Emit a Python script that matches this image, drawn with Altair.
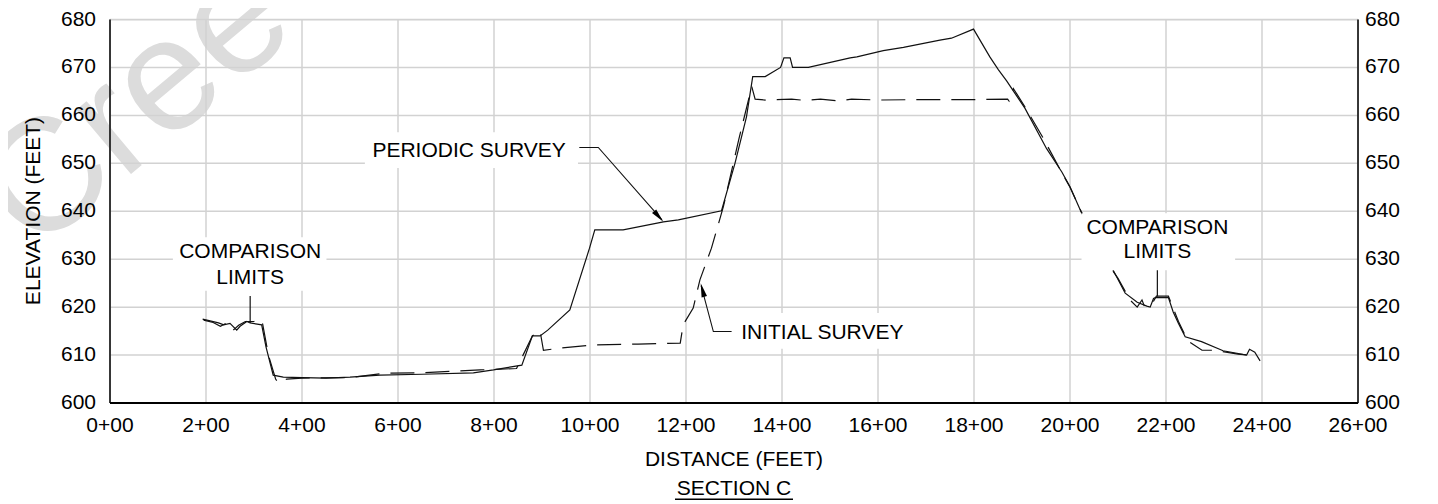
import altair as alt
import pandas as pd

FONT = "Liberation Sans"
FS = 21

# axis ticks and tick labels
x_ticks = list(range(0, 2601, 200))
x_labels = ["0+00", "2+00", "4+00", "6+00", "8+00", "10+00", "12+00", "14+00", "16+00", "18+00", "20+00",
            "22+00", "24+00", "26+00"]
y_ticks = list(range(600, 681, 10))
y_labels = ["600", "610", "620", "630", "640", "650", "660", "670", "680"]

# PERIODIC SURVEY (solid)
periodic_d = [193, 226, 237, 250, 264, 271, 285, 292, 316, 325, 340, 361, 400, 450, 500, 562, 650, 757, 799, 858,
              880, 896, 912, 958, 999, 1010, 1069, 1153, 1184, 1274, 1302, 1309, 1326, 1339, 1365, 1397, 1404, 1417,
              1422, 1455, 1542, 1556, 1611, 1653, 1729, 1753, 1799, 1833, 1851, 1868, 1906, 1951, 1983, 2000, 2023,
              2083, 2090, 2115, 2140, 2160, 2167, 2174, 2178, 2205, 2215, 2226, 2240, 2274, 2319, 2368, 2374, 2385, 2396]
periodic_e = [617.5, 616.7, 616.3, 616.6, 615.2, 616.0, 617.0, 616.7, 616.3, 611.7, 605.8, 605.4, 605.3, 605.2, 605.4,
              605.8, 606.0, 606.3, 606.9, 607.9, 614.0, 614.0, 615.2, 619.4, 632.3, 636.1, 636.1, 637.8, 638.2, 640.1,
              650.0, 652.8, 659.7, 668.1, 668.1, 670.0, 672.0, 672.0, 670.0, 670.0, 672.0, 672.2, 673.5, 674.2, 675.7,
              676.1, 678.0, 672.2, 669.5, 667.2, 661.5, 653.1, 648.2, 645.1, 639.9, 628.8, 627.7, 622.9, 621.0, 620.2,
              620.0, 621.8, 622.0, 622.0, 619.0, 616.6, 613.8, 612.8, 610.9, 610.0, 611.2, 610.6, 608.8]

# INITIAL SURVEY (dashed)
initial_d = [195, 215, 230, 245, 258, 268, 282, 300, 312, 318, 330, 345, 351, 368, 400, 500, 570, 650, 771, 847,
             880, 896, 903, 934, 1007, 1100, 1188, 1194, 1215, 1229, 1253, 1278, 1310, 1337, 1344, 1365, 1420, 1450,
             1480, 1520, 1545, 1600, 1700, 1800, 1870, 1873, 1875, 1882, 1906, 1944, 1980, 2000, 2023, 2083, 2100,
             2125, 2140, 2150, 2155, 2170, 2180, 2205, 2226, 2245, 2275, 2302, 2350, 2370]
initial_e = [617.3, 616.8, 616.0, 616.8, 615.3, 616.2, 617.0, 617.0, 617.5, 616.5, 610.0, 605.0, 604.2, 605.0, 605.2,
             605.3, 606.2, 606.3, 606.9, 607.2, 614.0, 615.0, 611.0, 611.4, 612.1, 612.3, 612.5, 616.3, 619.8, 625.7,
             632.3, 641.0, 655.0, 666.0, 663.4, 663.2, 663.4, 663.1, 663.4, 663.0, 663.4, 663.2, 663.3, 663.3, 663.4,
             663.0, 663.6, 665.6, 661.8, 655.3, 648.6, 645.0, 640.0, 628.5, 626.0, 621.5, 620.0, 621.5, 620.2, 620.5,
             622.3, 622.3, 617.0, 613.0, 611.0, 611.0, 610.2, 610.0]

# annotation labels (data units)
label_text = ["PERIODIC SURVEY", "INITIAL SURVEY", "COMPARISON", "LIMITS", "COMPARISON", "LIMITS"]
label_d = [748, 1484, 292, 292, 2182, 2182]
label_e = [652.6, 614.6, 631.4, 626.1, 636.6, 631.4]

# label background boxes
box_d1 = [531, 1302, 131, 2024]
box_d2 = [975, 1667, 451, 2344]
box_e1 = [649.0, 611.3, 623.4, 627.7]
box_e2 = [656.5, 618.8, 634.6, 639.6]

# leader lines
lead_id = ["p", "p", "p", "i", "i", "i"]
lead_ord = [0, 1, 2, 0, 1, 2]
lead_d = [977.7, 1017.3, 1150.0, 1295.0, 1257.0, 1231.5]
lead_e = [653.3, 653.3, 638.2, 614.9, 614.9, 624.5]
arrow_d = [1152.7, 1230.6]
arrow_e = [637.8, 625.0]
arrow_ang = [139, 345]
limit_d = [292, 2182]
limit_e1 = [616.7, 622.2]
limit_e2 = [622.3, 627.7]

W, H = 1248, 383.5
xs = alt.Scale(domain=[0, 2600], nice=False, zero=False)
ys = alt.Scale(domain=[600, 680], nice=False, zero=False)


def X(f):
    return alt.X(f, type="quantitative", scale=xs, axis=None)


def Y(f):
    return alt.Y(f, type="quantitative", scale=ys, axis=None)


one = pd.DataFrame({"a": [0]})

watermark = alt.Chart(one).mark_text(
    text="Cree", font=FONT, fontSize=160, color="#dcdcdc", align="left", baseline="alphabetic", angle=320
).encode(x=alt.value(-76), y=alt.value(236))

GRID = "#d2d2d2"
vgrid = alt.Chart(pd.DataFrame({"d": x_ticks})).mark_rule(color=GRID, strokeWidth=1.5).encode(x=X("d"))
hgrid = alt.Chart(pd.DataFrame({"e": y_ticks})).mark_rule(color=GRID, strokeWidth=1.5).encode(y=Y("e"))

solid = alt.Chart(pd.DataFrame({"d": periodic_d, "e": periodic_e})).mark_line(
    color="#111111", strokeWidth=1.2).encode(x=X("d"), y=Y("e"))
dashed = alt.Chart(pd.DataFrame({"d": initial_d, "e": initial_e})).mark_line(
    color="#111111", strokeWidth=1.2, strokeDash=[24, 11]).encode(x=X("d"), y=Y("e"))

boxes = alt.Chart(pd.DataFrame({"d1": box_d1, "d2": box_d2, "e1": box_e1, "e2": box_e2})).mark_rect(
    color="white").encode(x=X("d1"), x2="d2", y=Y("e1"), y2="e2")

labels = alt.Chart(pd.DataFrame({"t": label_text, "d": label_d, "e": label_e})).mark_text(
    font=FONT, fontSize=FS, color="black", align="center", baseline="middle").encode(x=X("d"), y=Y("e"), text="t:N")

leaders = alt.Chart(pd.DataFrame({"id": lead_id, "o": lead_ord, "d": lead_d, "e": lead_e})).mark_line(
    color="#111111", strokeWidth=1.1).encode(x=X("d"), y=Y("e"), detail="id:N", order="o:Q")
arrows = alt.Chart(pd.DataFrame({"d": arrow_d, "e": arrow_e, "a": arrow_ang})).mark_point(
    shape="M0,0L0.4,2L-0.4,2Z", filled=True, color="black", opacity=1, size=196, strokeWidth=0
).encode(x=X("d"), y=Y("e"), angle=alt.Angle("a:Q", scale=None))
limits = alt.Chart(pd.DataFrame({"d": limit_d, "e1": limit_e1, "e2": limit_e2})).mark_rule(
    color="#111111", strokeWidth=1.2).encode(x=X("d"), y=Y("e1"), y2="e2")

# axis lines (left, right, bottom)
vdom = alt.Chart(pd.DataFrame({"d": [0, 2600]})).mark_rule(color="black", strokeWidth=1.5).encode(x=X("d"))
hdom = alt.Chart(pd.DataFrame({"e": [600]})).mark_rule(color="black", strokeWidth=1.8).encode(y=Y("e"))

# tick labels
xlab = alt.Chart(pd.DataFrame({"d": x_ticks, "t": x_labels, "e": [600] * len(x_ticks)})).mark_text(
    font=FONT, fontSize=FS, color="black", align="center", baseline="top", dy=12
).encode(x=X("d"), y=Y("e"), text="t:N")
ylab_left = alt.Chart(pd.DataFrame({"e": y_ticks, "t": y_labels, "d": [0] * len(y_ticks)})).mark_text(
    font=FONT, fontSize=FS, color="black", align="right", baseline="middle", dx=-14
).encode(x=X("d"), y=Y("e"), text="t:N")
ylab_right = alt.Chart(pd.DataFrame({"e": y_ticks, "t": y_labels, "d": [2600] * len(y_ticks)})).mark_text(
    font=FONT, fontSize=FS, color="black", align="left", baseline="middle", dx=7
).encode(x=X("d"), y=Y("e"), text="t:N")

ytitle = alt.Chart(one).mark_text(text="ELEVATION (FEET)", font=FONT, fontSize=FS, color="black", angle=270,
                                  align="center", baseline="middle").encode(x=alt.value(-76), y=alt.value(191.5))
xtitle = alt.Chart(one).mark_text(text="DISTANCE (FEET)", font=FONT, fontSize=FS, color="black",
                                  align="center", baseline="middle").encode(x=alt.value(624), y=alt.value(440.7))
sect = alt.Chart(one).mark_text(text="SECTION C", font=FONT, fontSize=FS, color="black",
                                align="center", baseline="middle").encode(x=alt.value(624), y=alt.value(469.7))
underline = alt.Chart(one).mark_rule(color="black", strokeWidth=1.5).encode(
    x=alt.value(565), x2=alt.value(683), y=alt.value(479.8))

chart = alt.layer(
    watermark, vgrid, hgrid, solid, dashed, boxes, labels, leaders, arrows, limits,
    vdom, hdom, xlab, ylab_left, ylab_right, ytitle, xtitle, sect, underline
).properties(
    width=W, height=H,
    autosize=alt.AutoSizeParams(type="none"),
    padding={"left": 102, "top": 11.5, "right": 72, "bottom": 101},
).configure_view(stroke=None).configure(background="white")

chart.save("out.html", embed_options={"renderer": "svg", "actions": False})
